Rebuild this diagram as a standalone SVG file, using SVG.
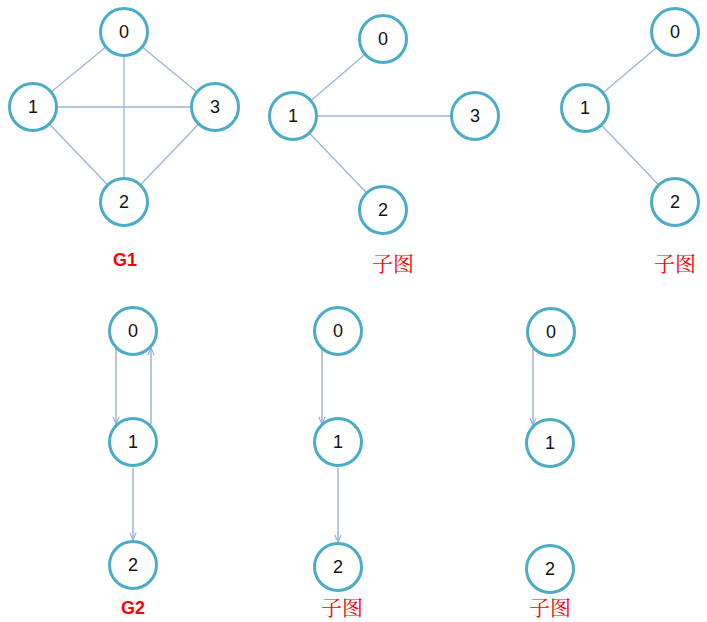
<svg xmlns="http://www.w3.org/2000/svg" width="707" height="622" viewBox="0 0 707 622">
<style>
.n circle{fill:#fff;stroke:#4bacc6;stroke-width:3}
.n text{font-family:"Liberation Sans","Open Sans",sans-serif;font-size:18px;fill:#111;text-anchor:middle;dominant-baseline:central}
.e line{stroke:#9bb5d8;stroke-width:1.3;fill:none}
.a line{stroke:#8eaad6;stroke-width:1.3;fill:none;marker-end:url(#arr)}
.lg{font-family:"Liberation Sans",sans-serif;font-weight:bold;font-size:18px;fill:#ff0000;text-anchor:middle}
.lc{font-family:"Noto Serif CJK SC","Noto Sans CJK SC",serif;font-size:21px;fill:#ff0000;text-anchor:middle}
</style>
<defs>
<marker id="arr" viewBox="0 0 10 10" refX="10" refY="5" markerWidth="8" markerHeight="8" markerUnits="userSpaceOnUse" orient="auto">
<path d="M1,1 L10,5 L1,9" fill="none" stroke="#8eaad6" stroke-width="1.3"/>
</marker>
</defs>
<g id="connectors">
<g class="e">
<line x1="124" y1="32" x2="33" y2="107"/>
<line x1="124" y1="32" x2="215" y2="107"/>
<line x1="124" y1="32" x2="124" y2="202"/>
<line x1="33" y1="107" x2="215" y2="107"/>
<line x1="33" y1="107" x2="124" y2="202"/>
<line x1="215" y1="107" x2="124" y2="202"/>
<line x1="383" y1="39" x2="293" y2="116"/>
<line x1="293" y1="116" x2="475" y2="116"/>
<line x1="293" y1="116" x2="383" y2="210"/>
<line x1="675" y1="32" x2="585" y2="108"/>
<line x1="585" y1="108" x2="675" y2="202"/>
</g>
<g class="a">
<line x1="116" y1="348" x2="116" y2="424"/>
<line x1="151" y1="424" x2="151" y2="348"/>
<line x1="133" y1="468" x2="133" y2="540"/>
<line x1="322" y1="348" x2="322" y2="424"/>
<line x1="338" y1="468" x2="338" y2="542"/>
<line x1="533" y1="349" x2="533" y2="425"/>
</g>
</g>
<g id="g1-0" class="n"><circle cx="124" cy="32" r="23.5"/><text x="124" y="32">0</text></g>
<g id="g1-1" class="n"><circle cx="33" cy="107" r="23.5"/><text x="33" y="107">1</text></g>
<g id="g1-2" class="n"><circle cx="124" cy="202" r="23.5"/><text x="124" y="202">2</text></g>
<g id="g1-3" class="n"><circle cx="215" cy="107" r="23.5"/><text x="215" y="107">3</text></g>
<g id="s1-0" class="n"><circle cx="383" cy="39" r="23.5"/><text x="383" y="39">0</text></g>
<g id="s1-1" class="n"><circle cx="293" cy="116" r="23.5"/><text x="293" y="116">1</text></g>
<g id="s1-2" class="n"><circle cx="383" cy="210" r="23.5"/><text x="383" y="210">2</text></g>
<g id="s1-3" class="n"><circle cx="475" cy="116" r="23.5"/><text x="475" y="116">3</text></g>
<g id="s2-0" class="n"><circle cx="675" cy="32" r="23.5"/><text x="675" y="32">0</text></g>
<g id="s2-1" class="n"><circle cx="585" cy="108" r="23.5"/><text x="585" y="108">1</text></g>
<g id="s2-2" class="n"><circle cx="675" cy="202" r="23.5"/><text x="675" y="202">2</text></g>
<g id="g2-0" class="n"><circle cx="133" cy="331" r="23.5"/><text x="133" y="331">0</text></g>
<g id="g2-1" class="n"><circle cx="133" cy="442" r="23.5"/><text x="133" y="442">1</text></g>
<g id="g2-2" class="n"><circle cx="133" cy="565" r="23.5"/><text x="133" y="565">2</text></g>
<g id="s3-0" class="n"><circle cx="338" cy="331" r="23.5"/><text x="338" y="331">0</text></g>
<g id="s3-1" class="n"><circle cx="338" cy="442" r="23.5"/><text x="338" y="442">1</text></g>
<g id="s3-2" class="n"><circle cx="338" cy="567" r="23.5"/><text x="338" y="567">2</text></g>
<g id="s4-0" class="n"><circle cx="551" cy="332" r="23.5"/><text x="551" y="332">0</text></g>
<g id="s4-1" class="n"><circle cx="550" cy="443" r="23.5"/><text x="550" y="443">1</text></g>
<g id="s4-2" class="n"><circle cx="550" cy="569" r="23.5"/><text x="550" y="569">2</text></g>
<g id="labels">
<text class="lg" x="125" y="266">G1</text>
<text class="lc" x="393" y="271">子图</text>
<text class="lc" x="675" y="271">子图</text>
<text class="lg" x="133" y="614">G2</text>
<text class="lc" x="342" y="615">子图</text>
<text class="lc" x="550" y="615">子图</text>
</g>
</svg>
